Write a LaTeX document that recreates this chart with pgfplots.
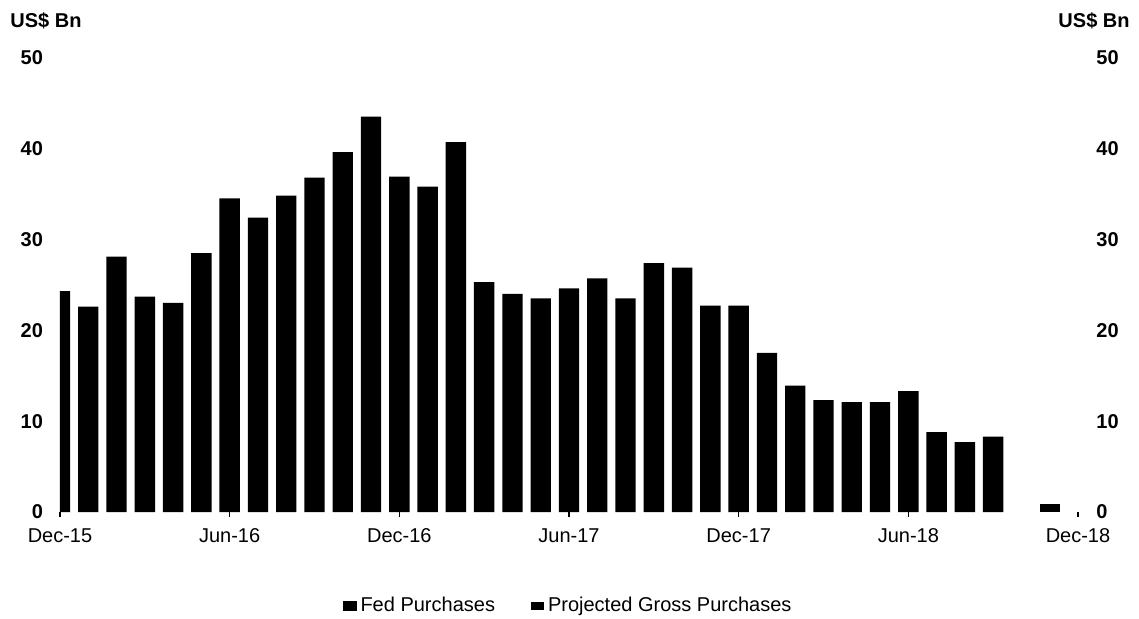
\documentclass[border=0pt]{standalone}
\usepackage{pgfplots}
\pgfplotsset{compat=1.18}
\usepackage{fontspec}
\setmainfont{Liberation Sans}
\begin{document}
\begin{tikzpicture}
\pgfplotsset{
  base/.style={
    scale only axis, width=509pt, height=227.2pt,
    xmin=0, xmax=36, ymin=0, ymax=50,
    axis line style={draw=none},
    ytick={0,10,20,30,40,50},
    ytick style={draw=none},
    /pgf/number format/assume math mode=true,
    yticklabel style={font=\bfseries},
    clip mode=individual,
  }
}
\begin{axis}[base,
  ybar, bar width=0.72,
  xtick={0,6,12,18,24,30,36},
  xticklabels={Dec-15,Jun-16,Dec-16,Jun-17,Dec-17,Jun-18,Dec-18},
  xtick pos=lower, tick align=outside, major tick length=2.5pt,
  xtick style={black, line width=0.8pt},
  xticklabel style={yshift=-2pt, text height=7.3pt, text depth=0pt},
  ytick pos=left,
  yticklabel style={xshift=-2.5pt},
  legend style={at={(0.5,-0.207)}, anchor=center, draw=none,
    legend columns=2, font=\fontsize{10}{12}\selectfont,
    /tikz/every even column/.append style={column sep=16pt}},
]
\addplot[fill=black, draw=none, bar shift=0pt,
  legend image code/.code={\fill[black] (0pt,-2.5pt) rectangle (7pt,2.5pt);}]
  coordinates {
  (0,24.3) (1,22.6) (2,28.1) (3,23.7) (4,23.0) (5,28.5) (6,34.5) (7,32.4)
  (8,34.8) (9,36.8) (10,39.6) (11,43.5) (12,36.9) (13,35.8) (14,40.7)
  (15,25.3) (16,24.0) (17,23.5) (18,24.6) (19,25.7) (20,23.5) (21,27.4)
  (22,26.9) (23,22.7) (24,22.7) (25,17.5) (26,13.9) (27,12.3) (28,12.1)
  (29,12.1) (30,13.3) (31,8.8) (32,7.7) (33,8.3)
  };
\addlegendentry{Fed Purchases}
\addplot[fill=black, draw=none, bar shift=0pt,
  legend image code/.code={\fill[black] (0pt,-2pt) rectangle (6.5pt,2pt);}]
  coordinates {(35,0.9)};
\addlegendentry{Projected Gross Purchases}
\node[anchor=west, font=\bfseries, inner sep=0pt] at ([xshift=-25pt, yshift=18.5pt]rel axis cs:0,1) {US\$ Bn};
\node[anchor=east, font=\bfseries, inner sep=0pt] at ([xshift=26pt, yshift=18.5pt]rel axis cs:1,1) {US\$ Bn};
\end{axis}
\begin{axis}[base,
  xtick=\empty,
  ytick pos=right, yticklabel pos=right,
  yticklabel style={xshift=5.7pt},
]
\addplot[draw=none] coordinates {(0,0)};
\end{axis}
\pgfresetboundingbox
\useasboundingbox (-30pt,-53pt) rectangle (539.5pt,256pt);
\end{tikzpicture}
\end{document}
